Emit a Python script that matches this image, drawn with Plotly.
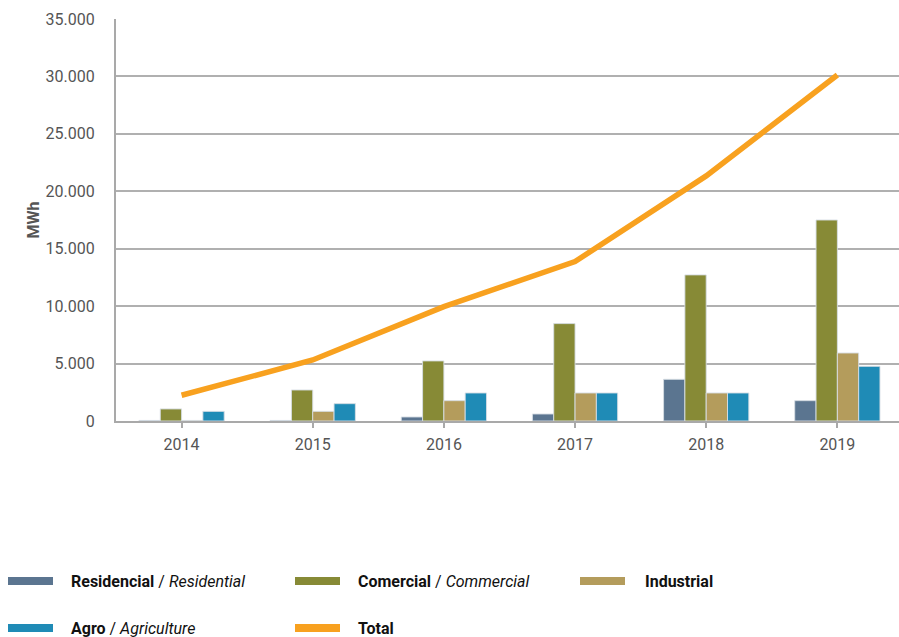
import plotly.graph_objects as go

# ---- data ----
years = ["2014", "2015", "2016", "2017", "2018", "2019"]
residencial = [50, 50, 350, 610, 3630, 1770]
comercial = [1050, 2700, 5230, 8480, 12720, 17500]
industrial = [50, 840, 1770, 2440, 2440, 5920]
agro = [840, 1510, 2440, 2440, 2440, 4760]
total = [2240, 5310, 9960, 13880, 21340, 30120]
y_ticks = [0, 5000, 10000, 15000, 20000, 25000, 30000, 35000]

series_names = ["Residencial", "Comercial", "Industrial", "Agro"]
legend_labels = [
    "<b>Residencial</b> / <i>Residential</i>",
    "<b>Comercial</b> / <i>Commercial</i>",
    "<b>Industrial</b>",
    "<b>Agro</b> / <i>Agriculture</i>",
    "<b>Total</b>",
]
colors = ["#5B7590", "#878A36", "#B49C5C", "#1F8BB6", "#F8A11F"]

FONT = "Roboto, Liberation Sans, sans-serif"
W, H = 899, 637
ML, MR, MT, MB = 116, 0, 19, 216
PW, PH = W - ML - MR, H - MT - MB

fig = go.Figure()
for name, vals, col in zip(series_names, [residencial, comercial, industrial, agro], colors[:4]):
    fig.add_trace(go.Bar(
        x=years, y=vals, name=name,
        marker=dict(color=col, line=dict(color="rgba(215,222,228,0.9)", width=1)),
        showlegend=False,
    ))
fig.add_trace(go.Scatter(
    x=years, y=total, name="Total", mode="lines",
    line=dict(color=colors[4], width=5.5),
    showlegend=False,
))

# ---- manual legend (two rows, three columns) ----
def px2x(px):
    return (px - ML) / PW

def py2y(py):
    return (H - MB - py) / PH

col_sw = [8, 295, 580]
col_tx = [69, 356, 643]
row_y = [581, 628]
shapes = []
annotations = []
for i, (lab, col) in enumerate(zip(legend_labels, colors)):
    r, c = divmod(i, 3)
    shapes.append(dict(type="rect", xref="paper", yref="paper",
                       x0=px2x(col_sw[c]), x1=px2x(col_sw[c] + 45),
                       y0=py2y(row_y[r] + 4), y1=py2y(row_y[r] - 4),
                       fillcolor=col, line=dict(width=0)))
    annotations.append(dict(xref="paper", yref="paper", x=px2x(col_tx[c]), y=py2y(row_y[r]),
                            text=lab, showarrow=False, xanchor="left", yanchor="middle",
                            font=dict(family=FONT, size=16, color="#111111")))

fig.update_layout(
    width=W, height=H,
    margin=dict(l=ML, r=MR, t=MT, b=MB),
    paper_bgcolor="white", plot_bgcolor="white",
    barmode="group", bargap=0.35, bargroupgap=0,
    separators=",.",
    font=dict(family=FONT, size=16, color="#555555"),
    shapes=shapes, annotations=annotations,
    xaxis=dict(
        type="category", range=[-0.5, 5.47],
        showline=True, linecolor="#A9A9A9", linewidth=2,
        ticks="outside", ticklen=5, tickcolor="#A9A9A9", tickwidth=2,
        ticklabelstandoff=3,
        showgrid=False, tickfont=dict(size=16, color="#555555"),
    ),
    yaxis=dict(
        range=[0, 35000], tickvals=y_ticks, tickformat=",d",
        showline=True, linecolor="#A9A9A9", linewidth=2,
        showgrid=True, gridcolor="#B0B0B0", gridwidth=2,
        zeroline=False, ticks="", ticklabelstandoff=16,
        tickfont=dict(size=16, color="#555555"),
        title=dict(text="<b>MWh</b>", font=dict(size=16, color="#555555"), standoff=2),
    ),
)

fig.write_html("out.html")
